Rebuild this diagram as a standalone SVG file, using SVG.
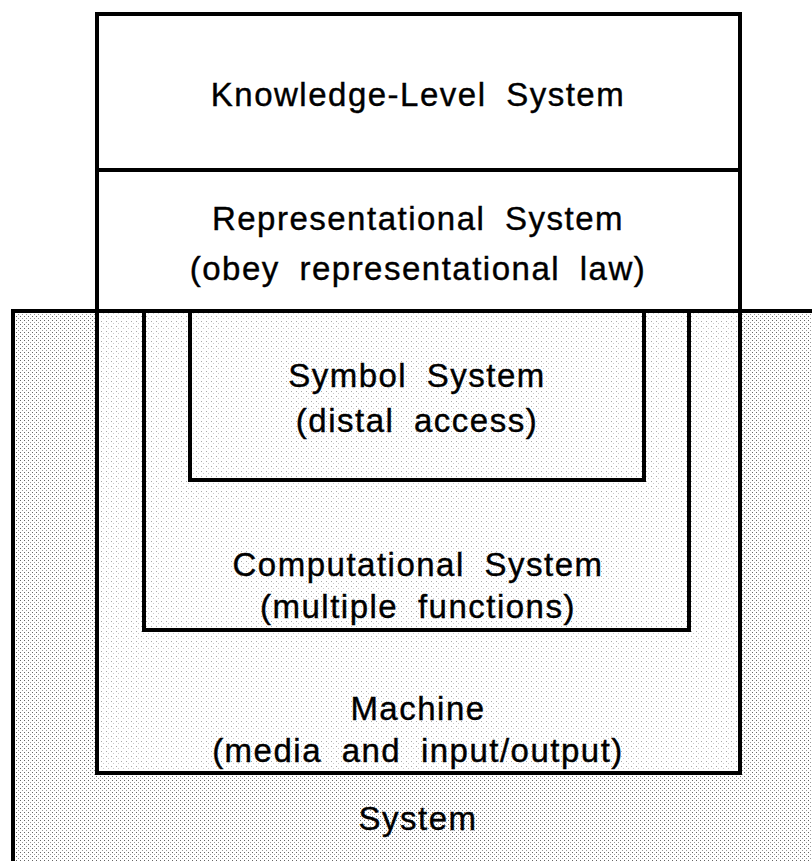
<svg xmlns="http://www.w3.org/2000/svg" width="812" height="861" viewBox="0 0 812 861">
  <defs>
    <pattern id="dense" x="0" y="0" width="4" height="4" patternUnits="userSpaceOnUse">
      <rect width="4" height="4" fill="#ffffff"/>
      <rect x="0" y="0" width="1" height="1" fill="#666"/>
      <rect x="2" y="2" width="1" height="1" fill="#999"/>
    </pattern>
    <pattern id="light" x="0" y="0" width="5" height="5" patternUnits="userSpaceOnUse">
      <rect width="5" height="5" fill="#ffffff"/>
      <rect x="1" y="1" width="1" height="1" fill="#aaa"/>
      <rect x="3" y="3" width="1" height="1" fill="#ccc"/>
    </pattern>
    <style>
      .box { stroke: #000; stroke-width: 4; }
      .lbl { font-family: "Liberation Sans", Arial, sans-serif; font-size: 33px; fill: #000; stroke: #000; stroke-width: 0.4px; text-anchor: middle; letter-spacing: 1.5px; word-spacing: 9px; }
    </style>
  </defs>

  <g id="system">
    <rect class="box" x="13" y="311" width="830" height="580" fill="url(#dense)" shape-rendering="crispEdges"/>
    <text class="lbl" x="418" y="830">System</text>
  </g>

  <g id="machine">
    <rect class="box" x="97" y="311" width="643" height="462" fill="url(#light)" shape-rendering="crispEdges"/>
    <text class="lbl" x="418" y="720">Machine</text>
    <text class="lbl" x="418" y="762">(media and input/output)</text>
  </g>

  <g id="computational">
    <rect class="box" x="144" y="311" width="545" height="319" fill="url(#light)" shape-rendering="crispEdges"/>
    <text class="lbl" x="418" y="576">Computational System</text>
    <text class="lbl" x="418" y="618">(multiple functions)</text>
  </g>

  <g id="symbol">
    <rect class="box" x="190" y="311" width="454" height="169" fill="url(#light)" shape-rendering="crispEdges"/>
    <text class="lbl" x="417" y="387">Symbol System</text>
    <text class="lbl" x="417" y="432">(distal access)</text>
  </g>

  <g id="representational">
    <rect class="box" x="97" y="170" width="643" height="141" fill="#fff" shape-rendering="crispEdges"/>
    <text class="lbl" x="418" y="230">Representational System</text>
    <text class="lbl" x="418" y="280">(obey representational law)</text>
  </g>

  <g id="knowledge">
    <rect class="box" x="97" y="14" width="643" height="156" fill="#fff" shape-rendering="crispEdges"/>
    <text class="lbl" x="418" y="106">Knowledge-Level System</text>
  </g>
</svg>
